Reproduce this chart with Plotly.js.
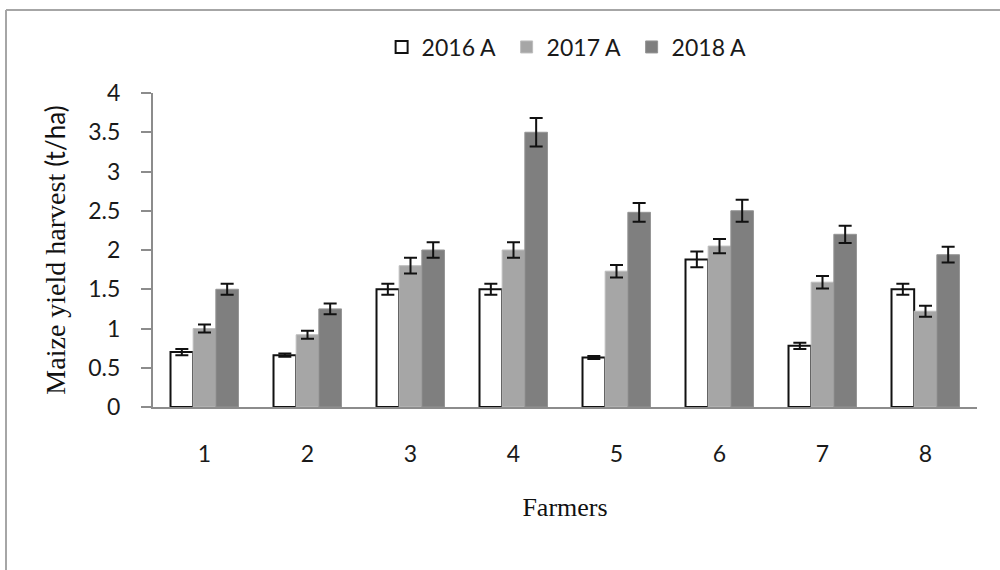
<!DOCTYPE html>
<html>
<head>
<meta charset="utf-8">
<script src="https://cdn.plot.ly/plotly-3.0.1.min.js"></script>
<style>
  html, body { margin: 0; padding: 0; background: #ffffff; }
  #chart { width: 1000px; height: 570px; }
</style>
</head>
<body>
<div id="chart"></div>
<script>
// Maize yield per farmer over three seasons, with standard errors
const farmers = ['1', '2', '3', '4', '5', '6', '7', '8'];

const yield2016 = [0.70, 0.66, 1.50, 1.50, 0.63, 1.88, 0.78, 1.50];
const err2016   = [0.04, 0.02, 0.07, 0.07, 0.02, 0.10, 0.04, 0.07];

const yield2017 = [1.00, 0.92, 1.80, 2.00, 1.73, 2.05, 1.59, 1.22];
const err2017   = [0.05, 0.05, 0.10, 0.10, 0.08, 0.09, 0.08, 0.07];

const yield2018 = [1.50, 1.25, 2.00, 3.50, 2.48, 2.50, 2.20, 1.94];
const err2018   = [0.07, 0.07, 0.10, 0.18, 0.12, 0.14, 0.11, 0.10];

const seriesNames = ['2016 A', '2017 A', '2018 A'];

const errStyle = (arr) => ({
  type: 'data', array: arr, visible: true,
  color: '#111111', thickness: 2, width: 6.5
});

const traces = [
  {
    type: 'bar', name: seriesNames[0], x: farmers, y: yield2016,
    marker: { color: '#ffffff', line: { color: '#111111', width: 2 } },
    error_y: errStyle(err2016)
  },
  {
    type: 'bar', name: seriesNames[1], x: farmers, y: yield2017,
    marker: { color: '#a6a6a6', line: { color: '#bdbdbd', width: 1 } },
    error_y: errStyle(err2017)
  },
  {
    type: 'bar', name: seriesNames[2], x: farmers, y: yield2018,
    marker: { color: '#7f7f7f', line: { color: '#959595', width: 1 } },
    error_y: errStyle(err2018)
  }
];

const tickFont = { family: 'Lato, "Open Sans", sans-serif', size: 23, color: '#1a1a1a' };
const serifFont = { family: '"Liberation Serif", "DejaVu Serif", serif', size: 26, color: '#111111' };
const yTitleFont = { family: '"Liberation Serif", "DejaVu Serif", serif', size: 28, color: '#111111' };

// outer frame lines (top and left), in paper units of the plot area
const plotL = 153, plotR = 977, plotT = 93, plotB = 407;
const px2x = (p) => (p - plotL) / (plotR - plotL);
const px2y = (p) => (plotB - p) / (plotB - plotT);

const layout = {
  width: 1000, height: 570,
  margin: { l: plotL, r: 1000 - plotR, t: plotT, b: 570 - plotB, pad: 0 },
  paper_bgcolor: '#ffffff', plot_bgcolor: '#ffffff',
  barmode: 'group', bargap: 0.34, bargroupgap: 0,
  showlegend: true,
  legend: {
    orientation: 'h', x: 0.505, xanchor: 'center', y: px2y(47), yanchor: 'middle',
    font: tickFont, traceorder: 'normal', itemwidth: 30,
    entrywidth: 80, entrywidthmode: 'pixels', bgcolor: 'rgba(0,0,0,0)'
  },
  xaxis: {
    type: 'category', range: [-0.5, 7.5],
    showline: true, linecolor: '#8c8c8c', linewidth: 2,
    ticks: '', showgrid: false, zeroline: false,
    tickfont: tickFont, ticklabelstandoff: 25,
    title: { text: 'Farmers', font: serifFont, standoff: 32 }
  },
  yaxis: {
    range: [0, 4], tickvals: [0, 0.5, 1, 1.5, 2, 2.5, 3, 3.5, 4],
    ticktext: ['0', '0.5', '1', '1.5', '2', '2.5', '3', '3.5', '4'],
    showline: true, linecolor: '#8c8c8c', linewidth: 2,
    ticks: 'outside', ticklen: 10, tickwidth: 2, tickcolor: '#8c8c8c',
    showgrid: false, zeroline: false,
    tickfont: tickFont, ticklabelstandoff: 16,
    title: {
      text: 'Maize yield harvest <span style="font-family:Lato, sans-serif;font-size:26px">(t/ha)</span>',
      font: yTitleFont, standoff: 14
    }
  },
  shapes: [
    { type: 'line', xref: 'paper', yref: 'paper', x0: px2x(6), x1: px2x(1000), y0: px2y(10), y1: px2y(10),
      line: { color: '#a6a6a6', width: 2 } },
    { type: 'line', xref: 'paper', yref: 'paper', x0: px2x(6), x1: px2x(6), y0: px2y(10), y1: px2y(570),
      line: { color: '#a6a6a6', width: 2 } }
  ]
};

Plotly.newPlot('chart', traces, layout, { displayModeBar: false, staticPlot: true });
</script>
</body>
</html>
